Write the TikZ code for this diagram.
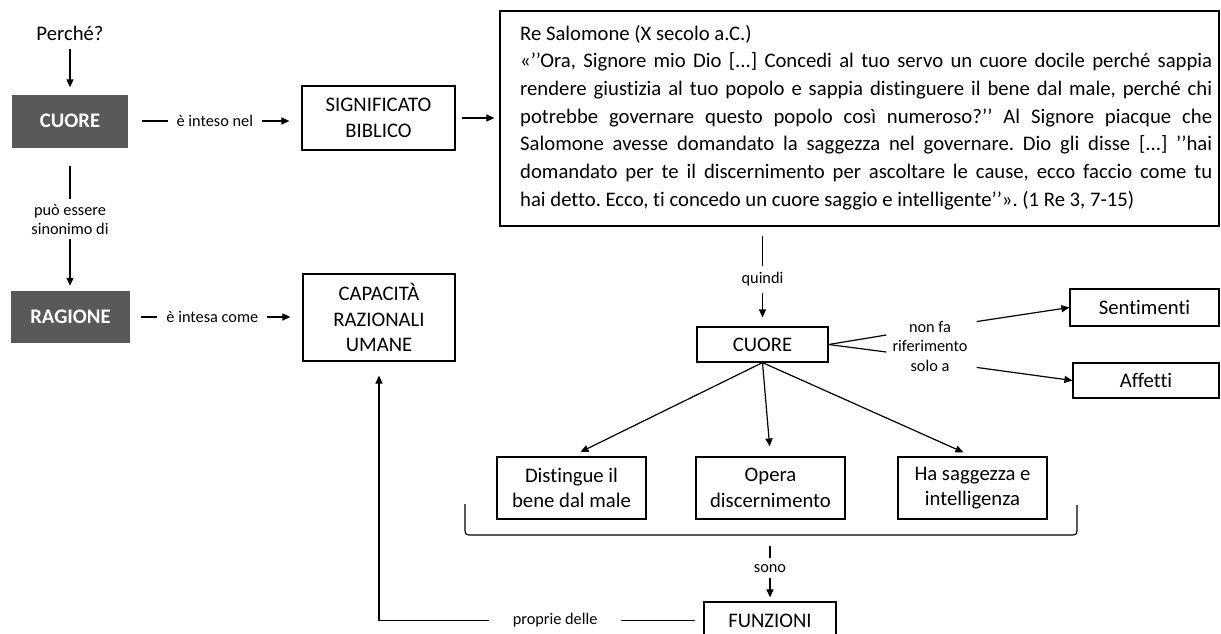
\documentclass[tikz,border=0pt]{standalone}
\usepackage{fontspec}
\setmainfont{Carlito}[Ligatures={TeX,NoCommon}]
\usetikzlibrary{arrows.meta}
\definecolor{darkbox}{HTML}{595959}
\newcommand\bxfont{\fontsize{20.7}{25.5}\selectfont}
\newcommand\lbfont{\fontsize{16.3}{19.5}\selectfont}
\frenchspacing
\begin{document}
\begin{tikzpicture}[x=1pt,y=-1pt,
  every node/.style={inner sep=0pt},
  wbox/.style={draw=black, line width=1.2pt, align=center, font=\bxfont},
  dbox/.style={fill=darkbox, text=white, align=center, font=\bxfont\bfseries},
  lab/.style={fill=white, align=center, font=\lbfont, inner xsep=9pt, inner ysep=4pt},
  conn/.style={line width=1.2pt},
  arr/.style={conn, -{Triangle[length=8pt,width=7pt]}}]
\useasboundingbox (0,0) rectangle (1221,633);
\clip (0,0) rectangle (1221,633);

% nodes
\node[font=\bxfont] (perche) at (70,33) {Perché?};
\node[dbox, minimum width=116pt, minimum height=53pt] (cuore) at (70,121) {CUORE};
\node[wbox, minimum width=153pt, minimum height=64pt] (sig) at (378.5,118) {SIGNIFICATO\\BIBLICO};
\node[wbox, minimum width=719pt, minimum height=215pt] (big) at (859.5,118.5) {};
\node[anchor=base west] (bigtxt) at (520,40) {\parbox[t]{692pt}{\fontsize{20.7}{27.7}\selectfont\frenchspacing
Re Salomone (X secolo a.C.)\\
\makebox[692pt][s]{«’’Ora, Signore mio Dio [...] Concedi al tuo servo un cuore docile perché sappia}\\
\makebox[692pt][s]{rendere giustizia al tuo popolo e sappia distinguere il bene dal male, perché chi}\\
\makebox[692pt][s]{potrebbe governare questo popolo così numeroso?’’ Al Signore piacque che}\\
\makebox[692pt][s]{Salomone avesse domandato la saggezza nel governare. Dio gli disse [...] ’’hai}\\
\makebox[692pt][s]{domandato per te il discernimento per ascoltare le cause, ecco faccio come tu}\\
hai detto. Ecco, ti concedo un cuore saggio e intelligente’’». (1 Re 3, 7-15)}};
\node[dbox, minimum width=119pt, minimum height=52pt] (ragione) at (70.5,317) {RAGIONE};
\node[wbox, minimum width=152pt, minimum height=87pt] (capacita) at (379,317.5) {CAPACITÀ\\RAZIONALI\\UMANE};
\node[wbox, minimum width=131pt, minimum height=35pt] (cuore2) at (762.5,344.5) {CUORE};
\node[font=\lbfont, align=center, inner xsep=6pt] (nfr) at (930,346) {non fa\\riferimento\\solo a};
\node[wbox, minimum width=149pt, minimum height=37pt] (sent) at (1144.5,307.5) {Sentimenti};
\node[wbox, minimum width=146pt, minimum height=35pt] (aff) at (1146,380.5) {Affetti};
\node[wbox, minimum width=149pt, minimum height=62pt] (dist) at (571.5,488) {Distingue il\\bene dal male};
\node[wbox, minimum width=149pt, minimum height=62pt] (opera) at (770.5,488) {Opera\\discernimento};
\node[wbox, minimum width=149pt, minimum height=62pt] (ha) at (972.5,488) {Ha saggezza e\\intelligenza};
\node[wbox, minimum width=132pt, minimum height=37pt] (funz) at (770,620.5) {FUNZIONI};
\coordinate (brk) at (770,535);

% bracket
\draw[conn] (465,504) -- (465,527) .. controls (465,535) .. (473,535) -- (1069,535) .. controls (1077,535) .. (1077,527) -- (1077,505);

% connectors
\draw[arr, shorten <=9pt, shorten >=7pt] (perche) -- (cuore);
\draw[arr, shorten <=14pt, shorten >=12pt] (cuore.east) -- (cuore.east -| sig.west) node[lab, midway] {è inteso nel};
\draw[arr, shorten <=6pt, shorten >=5pt] (sig.east) -- (sig.east -| big.west);
\draw[arr, shorten <=18pt, shorten >=5pt] (cuore.south) -- (cuore.south |- ragione.north) node[lab, midway, inner ysep=4.5pt] {può essere\\sinonimo di};
\draw[arr, shorten <=11pt, shorten >=12pt] (ragione.east) -- (ragione.east -| capacita.west) node[lab, pos=0.477] {è intesa come};
\draw[arr, shorten <=9pt, shorten >=9pt] (cuore2.north |- big.south) -- (cuore2.north) node[lab, pos=0.53, inner ysep=7pt] {quindi};
\draw[conn] (cuore2.east) -- ([yshift=11pt]nfr.west);
\draw[conn] (cuore2.east) -- ([yshift=-6pt]nfr.west);
\draw[arr, shorten <=3pt] ([yshift=24pt]nfr.east) -- (sent.west);
\draw[arr, shorten <=3pt] ([yshift=-21pt]nfr.east) -- (aff.west);
\draw[arr, shorten >=10pt] (cuore2.south) -- (dist.north);
\draw[arr, shorten >=10pt] (cuore2.south) -- (opera.north);
\draw[arr, shorten >=10pt] (cuore2.south) -- (ha.north);
\draw[arr, shorten <=11pt, shorten >=4pt] (brk) -- (funz.north) node[lab, midway, inner ysep=6pt] {sono};
\draw[arr, shorten <=8pt, shorten >=14pt] (funz.west) -| (capacita.south) node[lab, pos=0.2285, inner xsep=24pt] {proprie delle};
\end{tikzpicture}
\end{document}
